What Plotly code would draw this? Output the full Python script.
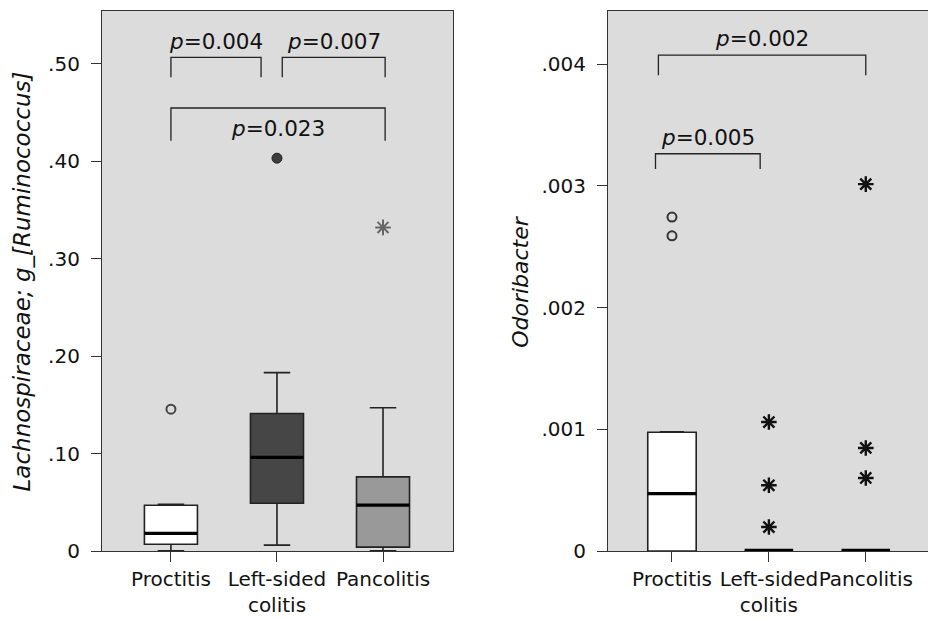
import plotly.graph_objects as go

categories = ["Proctitis", "Left-sided<br>colitis", "Pancolitis"]

# Panel A: Lachnospiraceae; g_[Ruminococcus]
a_q1 = [0.007, 0.049, 0.004]
a_median = [0.018, 0.096, 0.047]
a_q3 = [0.047, 0.141, 0.076]
a_low = [0.0003, 0.006, 0.0003]
a_high = [0.048, 0.183, 0.147]
a_fill = ["#ffffff", "#464646", "#999999"]
a_circle_open_x = [0]
a_circle_open_y = [0.1455]
a_circle_fill_x = [1]
a_circle_fill_y = [0.403]
a_star_x = [2]
a_star_y = [0.332]
a_ticks = [0, 0.1, 0.2, 0.3, 0.4, 0.5]
a_ticktext = ["0", ".10", ".20", ".30", ".40", ".50"]
# (x0, x1, bracket top, bracket ends, label centre, p)
a_brackets = [(0, 0.85, 0.5065, 0.486, 0.5226, "0.004"),
              (1.05, 2.02, 0.5065, 0.486, 0.5226, "0.007"),
              (0, 2.02, 0.4545, 0.421, 0.4333, "0.023")]

# Panel B: Odoribacter
b_q1 = [0.0, 0.0, 0.0]
b_median = [0.000472, 0.0, 0.0]
b_q3 = [0.000976, 0.0, 0.0]
b_low = [0.0, 0.0, 0.0]
b_high = [0.00098, 0.0, 0.0]
b_fill = ["#ffffff", "#ffffff", "#ffffff"]
b_circle_open_x = [0, 0]
b_circle_open_y = [0.002744, 0.00259]
b_star_x = [1, 1, 1, 2, 2, 2]
b_star_y = [0.00106, 0.00054, 0.000197, 0.003015, 0.000847, 0.0006]
b_ticks = [0, 0.001, 0.002, 0.003, 0.004]
b_ticktext = ["0", ".001", ".002", ".003", ".004"]
b_brackets = [(-0.14, 2.0, 0.004076, 0.00391, 0.004212, "0.002"),
              (-0.17, 0.91, 0.003265, 0.00314, 0.003395, "0.005")]

FONT = "DejaVu Sans"
BG = "#dcdcdc"
fig = go.Figure()

def add_panel(xa, ya, q1, med, q3, low, high, fills):
    for i, c in enumerate(categories):
        fig.add_trace(go.Box(
            x=[c], q1=[q1[i]], median=[med[i]], q3=[q3[i]],
            lowerfence=[low[i]], upperfence=[high[i]],
            boxpoints=False, width=0.5, whiskerwidth=0.5,
            fillcolor=fills[i], line=dict(color="#222222", width=1.6),
            xaxis=xa, yaxis=ya, showlegend=False, hoverinfo="skip"))
        flat = q3[i] == q1[i]
        fig.add_shape(type="line", xref=xa, yref=ya,
                      x0=i - 0.25, x1=i + 0.25, y0=med[i], y1=med[i],
                      line=dict(color="#000000", width=4.5 if flat else 3.2))

add_panel("x", "y", a_q1, a_median, a_q3, a_low, a_high, a_fill)
add_panel("x2", "y2", b_q1, b_median, b_q3, b_low, b_high, b_fill)

def cat(idx):
    return [categories[i] for i in idx]

fig.add_trace(go.Scatter(x=cat(a_circle_open_x), y=a_circle_open_y, mode="markers",
                         marker=dict(symbol="circle-open", size=9, color="#444444", line=dict(width=2)),
                         xaxis="x", yaxis="y", showlegend=False))
fig.add_trace(go.Scatter(x=cat(a_circle_fill_x), y=a_circle_fill_y, mode="markers",
                         marker=dict(symbol="circle", size=10, color="#3c3c3c", line=dict(width=1, color="#222222")),
                         xaxis="x", yaxis="y", showlegend=False))
fig.add_trace(go.Scatter(x=cat(a_star_x), y=a_star_y, mode="markers",
                         marker=dict(symbol="asterisk-open", size=13, color="#666666", line=dict(width=2)),
                         xaxis="x", yaxis="y", showlegend=False))
fig.add_trace(go.Scatter(x=cat(b_circle_open_x), y=b_circle_open_y, mode="markers",
                         marker=dict(symbol="circle-open", size=9, color="#333333", line=dict(width=2)),
                         xaxis="x2", yaxis="y2", showlegend=False))
fig.add_trace(go.Scatter(x=cat(b_star_x), y=b_star_y, mode="markers",
                         marker=dict(symbol="asterisk-open", size=13, color="#111111", line=dict(width=2.4)),
                         xaxis="x2", yaxis="y2", showlegend=False))

ann_font = dict(family=FONT, size=21.5, color="#111111")

def add_brackets(xa, ya, brackets):
    for (x0, x1, yt, ye, yl, p) in brackets:
        fig.add_shape(type="path", xref=xa, yref=ya,
                      path=f"M {x0},{ye} L {x0},{yt} L {x1},{yt} L {x1},{ye}",
                      line=dict(color="#222222", width=1.3))
        fig.add_annotation(xref=xa, yref=ya, x=(x0 + x1) / 2, y=yl,
                           text=f"<i>p</i>={p}", showarrow=False, font=ann_font,
                           yanchor="middle")

add_brackets("x", "y", a_brackets)
add_brackets("x2", "y2", b_brackets)

fig.add_annotation(xref="paper", yref="paper", x=-0.0959, y=0.5, xanchor="center", yanchor="middle",
                   text="<i>Lachnospiraceae; g_[Ruminococcus]</i>", textangle=-90, showarrow=False,
                   font=dict(family=FONT, size=23, color="#111111"))
fig.add_annotation(xref="paper", yref="paper", x=0.504, y=0.5, xanchor="center", yanchor="middle",
                   text="<i>Odoribacter</i>", textangle=-90, showarrow=False,
                   font=dict(family=FONT, size=22, color="#111111"))

axis_common = dict(showline=True, linecolor="#333333", linewidth=1.2, mirror=True,
                   ticks="outside", ticklen=10, tickcolor="#333333", tickwidth=1.2,
                   showgrid=False, zeroline=False, automargin=False)
yfont = dict(family=FONT, size=20, color="#111111")
xfont = dict(family=FONT, size=20, color="#111111")

fig.update_layout(
    width=936, height=619,
    margin=dict(l=94, r=13, t=3, b=76),
    paper_bgcolor="#ffffff", plot_bgcolor=BG,
    font=dict(family=FONT, color="#111111"),
    showlegend=False,
    xaxis=dict(domain=[0, 0.4234], type="category", categoryorder="array", categoryarray=categories,
               range=[-0.65, 2.66], tickfont=xfont, tickangle=0, **axis_common),
    yaxis=dict(range=[0, 0.554], tickvals=a_ticks, ticktext=a_ticktext, tickfont=yfont,
               ticklabelstandoff=7, **axis_common),
    xaxis2=dict(domain=[0.6104, 1.0], type="category", categoryorder="array", categoryarray=categories,
                range=[-0.66, 2.673], anchor="y2", tickfont=xfont, tickangle=0, **axis_common),
    yaxis2=dict(range=[0, 0.004438], tickvals=b_ticks, ticktext=b_ticktext, anchor="x2", tickfont=yfont,
                ticklabelstandoff=7, **axis_common),
)

fig.write_html("out.html")
